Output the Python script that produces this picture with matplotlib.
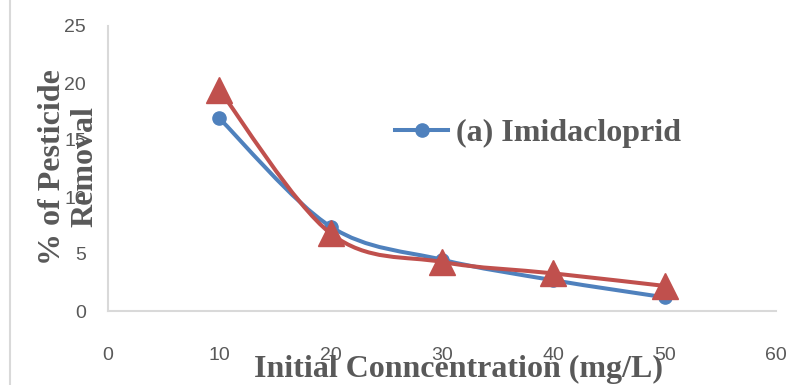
import matplotlib
matplotlib.use("Agg")
import matplotlib.pyplot as plt
from matplotlib.path import Path
from matplotlib.patches import PathPatch, Rectangle
from matplotlib.lines import Line2D

# Data
concentration = [10, 20, 30, 40, 50]
imidacloprid = [16.9, 7.4, 4.5, 2.7, 1.2]
series_b = [19.4, 6.8, 4.3, 3.3, 2.2]
x_ticks = [0, 10, 20, 30, 40, 50, 60]
y_ticks = [0, 5, 10, 15, 20, 25]
legend_label = "(a) Imidacloprid"
x_label = "Initial Conncentration (mg/L)"
y_label = "% of Pesticide\nRemoval"

BLUE = "#4F81BD"
RED = "#C0504D"
TXT = "#595959"
GRID = "#D9D9D9"

fig = plt.figure(figsize=(7.93, 3.85), dpi=100)
ax = fig.add_axes([108/793, 1-311/385, (776-108)/793, (311-26)/385])


def smooth_path(xs, ys):
    pts = list(zip(xs, ys))
    n = len(pts)
    verts = [pts[0]]
    codes = [Path.MOVETO]
    for i in range(n - 1):
        p0 = pts[i - 1] if i > 0 else pts[i]
        p1 = pts[i]
        p2 = pts[i + 1]
        p3 = pts[i + 2] if i + 2 < n else pts[i + 1]
        c1 = (p1[0] + (p2[0] - p0[0]) / 6, p1[1] + (p2[1] - p0[1]) / 6)
        c2 = (p2[0] - (p3[0] - p1[0]) / 6, p2[1] - (p3[1] - p1[1]) / 6)
        verts += [c1, c2, p2]
        codes += [Path.CURVE4] * 3
    return Path(verts, codes)


lw = 2.9
ax.add_patch(PathPatch(smooth_path(concentration, imidacloprid), fill=False,
                       edgecolor=BLUE, lw=lw, zorder=3, capstyle='round'))
ax.plot(concentration, imidacloprid, linestyle='none', marker='o',
        markersize=9.5, color=BLUE, zorder=4)
ax.add_patch(PathPatch(smooth_path(concentration, series_b), fill=False,
                       edgecolor=RED, lw=lw, zorder=5, capstyle='round'))
ax.plot(concentration, series_b, linestyle='none', marker='^',
        markersize=19, color=RED, zorder=6)

ax.set_xlim(0, 60)
ax.set_ylim(0, 25)
ax.set_xticks(x_ticks)
ax.set_yticks(y_ticks)
for s in ['top', 'right']:
    ax.spines[s].set_visible(False)
for s in ['left', 'bottom']:
    ax.spines[s].set_color(GRID)
    ax.spines[s].set_linewidth(1.5)
ax.tick_params(axis='both', length=0, labelsize=14, labelcolor=TXT)
ax.tick_params(axis='x', pad=26)
ax.tick_params(axis='y', pad=16)
for lab in ax.get_xticklabels() + ax.get_yticklabels():
    lab.set_fontfamily('Liberation Sans')

serif = dict(family='Liberation Serif', weight='bold', color=TXT, size=23)
fig.text(458/793, 1-377/385, x_label, ha='center', va='baseline', **serif)
fig.text(69/793, 1-167/385, y_label, ha='center', va='center', rotation=90,
         multialignment='center', linespacing=1.15, **serif)

handle = Line2D([], [], color=BLUE, lw=lw, marker='o', markersize=9.5)
leg = fig.legend(handles=[handle], labels=[legend_label], loc='center left',
                 bbox_to_anchor=(395/793, 1-133/385), frameon=False,
                 borderpad=0, borderaxespad=0, handlelength=1.66,
                 handletextpad=0.25,
                 prop=dict(family='Liberation Serif', weight='bold', size=23))
for t in leg.get_texts():
    t.set_color(TXT)

# outer chart frame
fig.patches.append(Rectangle((10/793, -0.2), 1.2, 1.2 + (1-6/385), transform=fig.transFigure,
                             fill=False, edgecolor=GRID, lw=1.5, zorder=0))

fig.savefig("out.png", dpi=100)
